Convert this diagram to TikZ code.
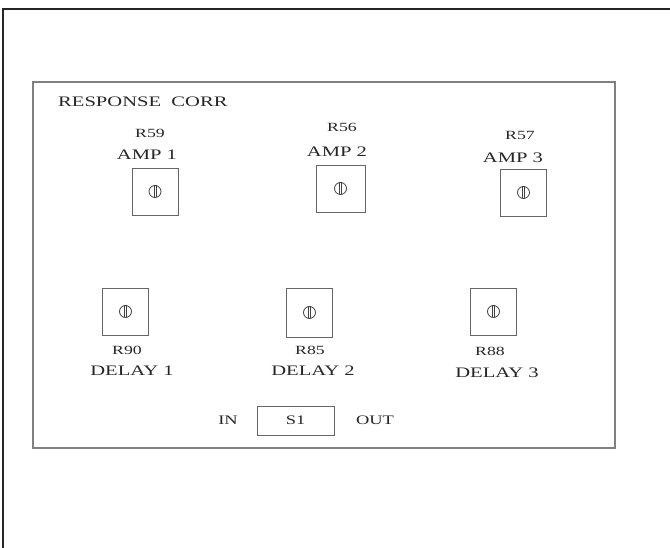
\documentclass[tikz,border=0pt]{standalone}
\usepackage{fontspec}
\newfontfamily\widefont[FakeStretch=1.42]{Liberation Serif}
\begin{document}
\begin{tikzpicture}[x=1pt,y=-1pt,
  lbl/.style={inner sep=0pt, text=black!85, font=\widefont\fontsize{14.5}{15}\selectfont},
  rlbl/.style={inner sep=0pt, text=black!85, font=\widefont\fontsize{12.5}{13}\selectfont},
  potbox/.style={draw=black!60, line width=0.9pt, minimum width=46pt, minimum height=47pt, inner sep=0pt},
  knob/.style={draw=black!75, line width=0.8pt}]
\useasboundingbox (0,0) rectangle (670,548);
% outer frame (partial)
\draw[line width=1.6pt, black!85] (3,548) -- (3,9) -- (670,9);
% panel
\node[draw=black!50, line width=2pt, minimum width=582pt, minimum height=366pt, inner sep=0pt] (panel) at (324,265) {};
\node[lbl, anchor=west] (title) at (58,102) {RESPONSE\ \ CORR};
% AMP row
\node[rlbl] (r59) at (150,133) {R59};
\node[lbl] (amp1) at (147,155) {AMP 1};
\node[potbox] (p1) at (155,191.5) {};
\node[rlbl] (r56) at (342,127) {R56};
\node[lbl] (amp2) at (337,152) {AMP 2};
\node[potbox, minimum width=49pt] (p2) at (340.5,188.5) {};
\node[rlbl] (r57) at (520,135) {R57};
\node[lbl] (amp3) at (513,158) {AMP 3};
\node[potbox] (p3) at (523.5,192.5) {};
% DELAY row
\node[potbox] (p4) at (125.5,311.5) {};
\node[rlbl] (r90) at (127,350) {R90};
\node[lbl] (d1) at (132,371) {DELAY 1};
\node[potbox, minimum height=49pt] (p5) at (309.5,312.5) {};
\node[rlbl] (r85) at (310,350) {R85};
\node[lbl] (d2) at (313,371) {DELAY 2};
\node[potbox] (p6) at (493.5,311.5) {};
\node[rlbl] (r88) at (490,351) {R88};
\node[lbl] (d3) at (497,373) {DELAY 3};
% knobs
\foreach \p in {p1,p2,p3,p4,p5,p6}{
  \draw[knob] (\p.center) circle (6pt);
  \draw[knob] ([xshift=-1.1pt,yshift=-6pt]\p.center) -- ([xshift=-1.1pt,yshift=6pt]\p.center);
  \draw[knob] ([xshift=1.1pt,yshift=-6pt]\p.center) -- ([xshift=1.1pt,yshift=6pt]\p.center);
}
% switch
\node[draw=black!60, line width=0.9pt, minimum width=77pt, minimum height=29pt, inner sep=0pt, rlbl, font=\widefont\fontsize{13}{13}\selectfont] (s1) at (295.5,420.5) {S1};
\node[rlbl, font=\widefont\fontsize{13}{13}\selectfont] (in) at (228,420) {IN};
\node[rlbl, font=\widefont\fontsize{13}{13}\selectfont] (out) at (375,420) {OUT};
\end{tikzpicture}
\end{document}
